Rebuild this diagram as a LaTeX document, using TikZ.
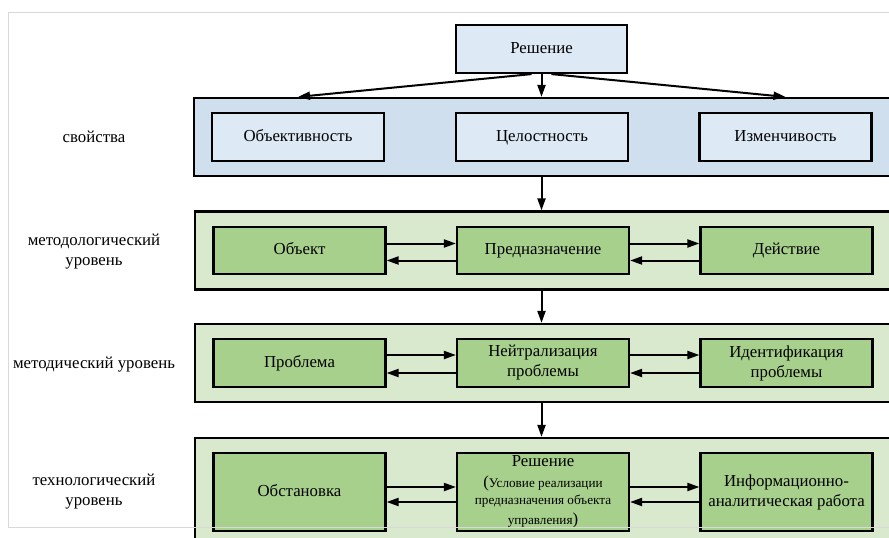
\documentclass[tikz,border=0pt]{standalone}
\usepackage{fontspec}
\setmainfont{Liberation Serif}
\usetikzlibrary{arrows.meta}
\definecolor{blueout}{RGB}{207,223,238}
\definecolor{bluein}{RGB}{221,233,245}
\definecolor{greenout}{RGB}{217,233,206}
\definecolor{greenin}{RGB}{168,208,141}
\newcommand{\notefont}{\fontsize{13.2}{15}\selectfont}
\begin{document}
\begin{tikzpicture}[x=1pt,y=-1pt,
    box/.style={draw, line width=2.2pt, inner sep=0pt, align=center, font=\fontsize{16.8}{20}\selectfont},
    outer/.style={box, minimum width=700pt, minimum height=78pt},
    inner/.style={box, minimum width=172pt, minimum height=48pt},
    oneline/.style={text height=11.5pt, text depth=3.5pt},
    level/.style={align=center, font=\fontsize{16.8}{20}\selectfont},
    link/.style={line width=2pt, -{Triangle[length=12pt,width=8pt]}}]
   \useasboundingbox (0,0) rectangle (889,538);
   \clip (0,0) rectangle (889,538);
   % levels
   \node[outer, fill=blueout] (props) at (544,137) {};
   \node[outer, fill=greenout] (meth) at (545,250.5) {};
   \node[outer, fill=greenout] (tech) at (545,363) {};
   \node[outer, fill=greenout, minimum height=108pt] (techn) at (545,492) {};
   \node[level] (lprops) at (94,137) {свойства};
   \node[level] (lmeth) at (94,252) {методологический\\уровень};
   \node[level] (ltech) at (94,365) {методический уровень};
   \node[level] (ltechn) at (94,492) {технологический\\уровень};
   % boxes
   \node[inner, oneline, fill=bluein, minimum width=171pt] (dec) at (541.5,49) {Решение};
   \node[inner, oneline, fill=bluein] (obj) at (298,137) {Объективность};
   \node[inner, oneline, fill=bluein] (integ) at (542,137) {Целостность};
   \node[inner, oneline, fill=bluein] (var) at (785.5,137) {Изменчивость};
   \node[inner, oneline, fill=greenin, minimum height=47pt] (object) at (299.5,250.5) {Объект};
   \node[inner, oneline, fill=greenin, minimum height=47pt] (purp) at (543,250.5) {Предназначение};
   \node[inner, oneline, fill=greenin, minimum height=47pt] (act) at (786.5,250.5) {Действие};
   \node[inner, oneline, fill=greenin] (prob) at (299.5,363) {Проблема};
   \node[inner, fill=greenin] (neut) at (543,363) {Нейтрализация\\проблемы};
   \node[inner, fill=greenin] (ident) at (786.5,363) {Идентификация\\проблемы};
   \node[inner, oneline, fill=greenin, minimum height=78pt] (sit) at (299.5,492) {Обстановка};
   \node[inner, fill=greenin, minimum height=78pt] (sol) at (543,492) {Решение\\[1pt]
     ({\notefont Условие реализации}\\[-3pt]
     {\notefont предназначения объекта}\\[0pt]
     {\notefont управления})};
   \node[inner, fill=greenin, minimum height=78pt] (info) at (786.5,492) {Информационно-\\аналитическая работа};
   % arrows
   \draw[link] ([xshift=-10pt]dec.south) to (props.north -| obj);
   \draw[link] (dec.south) to (props.north -| dec);
   \draw[link] ([xshift=10pt]dec.south) to (props.north -| var);
   \draw[link] (props.south -| dec) to (meth.north -| dec);
   \draw[link] (meth.south -| dec) to (tech.north -| dec);
   \draw[link] (tech.south -| dec) to (techn.north -| dec);
   \draw[link] ([yshift=7pt]object.east) to ([yshift=7pt]purp.west);
   \draw[link] ([yshift=-10pt]purp.west) to ([yshift=-10pt]object.east);
   \draw[link] ([yshift=7pt]purp.east) to ([yshift=7pt]act.west);
   \draw[link] ([yshift=-10pt]act.west) to ([yshift=-10pt]purp.east);
   \draw[link] ([yshift=8pt]prob.east) to ([yshift=8pt]neut.west);
   \draw[link] ([yshift=-10pt]neut.west) to ([yshift=-10pt]prob.east);
   \draw[link] ([yshift=8pt]neut.east) to ([yshift=8pt]ident.west);
   \draw[link] ([yshift=-10pt]ident.west) to ([yshift=-10pt]neut.east);
   \draw[link] ([yshift=5pt]sit.east) to ([yshift=5pt]sol.west);
   \draw[link] ([yshift=-10pt]sol.west) to ([yshift=-10pt]sit.east);
   \draw[link] ([yshift=5pt]sol.east) to ([yshift=5pt]info.west);
   \draw[link] ([yshift=-10pt]info.west) to ([yshift=-10pt]sol.east);
   % frame
   \draw[gray!30, line width=1pt] (8,12) rectangle (900,527);
 \end{tikzpicture}
\end{document}
